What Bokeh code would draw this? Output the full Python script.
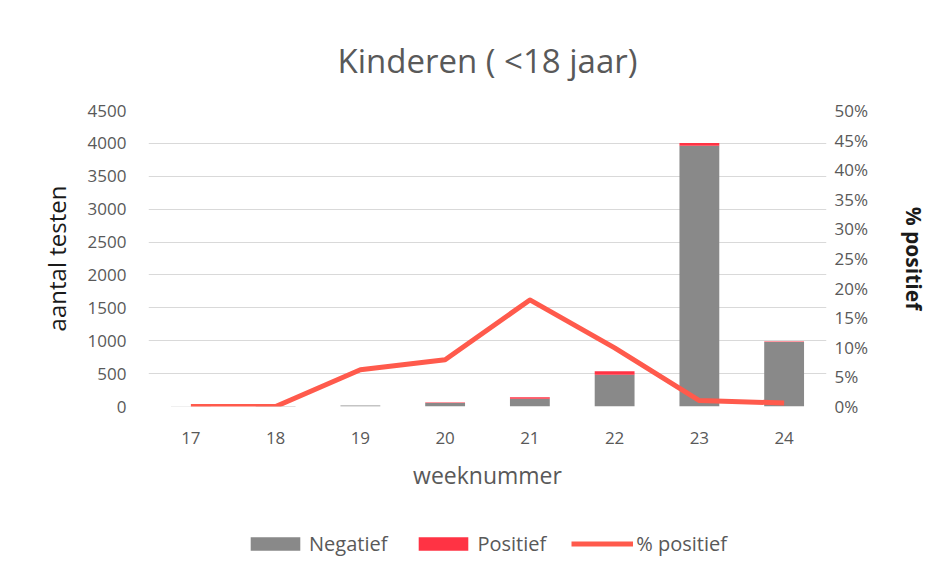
from bokeh.plotting import figure
from bokeh.layouts import column
from bokeh.models import (Range1d, LinearAxis, SingleIntervalTicker, PrintfTickFormatter,
                          Legend, LegendItem, ColumnDataSource, FactorRange)
from bokeh.embed import file_html
from bokeh.resources import INLINE

weeks = ["17", "18", "19", "20", "21", "22", "23", "24"]
negatief = [4, 6, 15, 55, 116, 483, 3965, 982]
positief = [0, 0, 1, 5, 25, 53, 40, 6]
pct_positief = [0.0, 0.0, 6.2, 7.9, 18.0, 9.9, 1.0, 0.6]
series_labels = ["Negatief", "Positief", "% positief"]

FONT = "Open Sans"
TXT = "#595959"
GREY = "#898989"
RED = "#ff3344"
LINE = "#ff5a4c"

src = ColumnDataSource(dict(week=weeks, Negatief=negatief, Positief=positief, pct=pct_positief))

p = figure(x_range=FactorRange(*weeks, range_padding=0), y_range=Range1d(0, 4500),
           width=936, height=500, output_backend="svg", toolbar_location=None,
           min_border_left=148, min_border_right=110, min_border_top=110, min_border_bottom=94)
p.extra_y_ranges = {"pct": Range1d(0, 50)}

p.vbar_stack(["Negatief", "Positief"], x="week", width=0.47, source=src,
             color=[GREY, RED], line_color=None)
p.line(x="week", y="pct", source=src, y_range_name="pct", line_color=LINE,
       line_width=5, line_join="round")

p.title.text = "Kinderen ( <18 jaar)"
p.title.align = "center"
p.title.offset = -5
p.title.text_font = FONT
p.title.text_font_size = "33px"
p.title.text_font_style = "normal"
p.title.text_color = TXT
p.title.standoff = 56

p.outline_line_color = None
p.xgrid.grid_line_color = None
p.ygrid.grid_line_color = "#d9d9d9"
p.ygrid.grid_line_width = 1

ya = p.yaxis[0]
ya.ticker = SingleIntervalTicker(interval=500)
ya.axis_label = "aantal testen"

ra = LinearAxis(y_range_name="pct", ticker=SingleIntervalTicker(interval=5),
                formatter=PrintfTickFormatter(format="%d%%"), axis_label="% positief")
p.add_layout(ra, "right")

xa = p.xaxis[0]
xa.axis_label = "weeknummer"

for ax in [ya, ra, xa]:
    ax.axis_line_color = None
    ax.major_tick_line_color = None
    ax.minor_tick_line_color = None
    ax.major_label_text_font = FONT
    ax.major_label_text_font_size = "17px"
    ax.major_label_text_color = TXT
    ax.axis_label_text_font = FONT
    ax.axis_label_text_font_size = "23px"
    ax.axis_label_text_font_style = "normal"
    ax.axis_label_text_color = "#1a1a1a"

ya.major_label_standoff = 16
ya.axis_label_standoff = 12
ya.axis_label_text_font_size = "24px"
ra.major_label_standoff = 2
ra.axis_label_standoff = 29
ra.axis_label_text_font_style = "bold"
ra.axis_label_text_font_size = "21px"
xa.major_label_standoff = 19
xa.axis_label_standoff = 12
xa.axis_label_text_color = TXT

# legend row below the chart (its own renderers are hidden; only the legend is drawn)
lg = figure(x_range=FactorRange(*weeks, range_padding=0), y_range=Range1d(-2, -1),
            width=936, height=63, output_backend="svg", toolbar_location=None,
            x_axis_location=None, y_axis_location=None, min_border=0)
lg.outline_line_color = None
lg.grid.visible = False
lg_bars = lg.vbar_stack(["Negatief", "Positief"], x="week", width=0.47, source=src,
                        color=[GREY, RED], line_color=None)
lg_line = lg.line(x="week", y="pct", source=src, line_color=LINE, line_width=5)
for rr in list(lg_bars) + [lg_line]:
    rr.visible = False

legend = Legend(items=[LegendItem(label=series_labels[0], renderers=[lg_bars[0]]),
                       LegendItem(label=series_labels[1], renderers=[lg_bars[1]]),
                       LegendItem(label=series_labels[2], renderers=[lg_line])],
                orientation="horizontal", location=(96, 6), click_policy="none",
                glyph_width=62, glyph_height=17, label_standoff=3, spacing=25,
                padding=0, margin=0, border_line_color=None, background_fill_alpha=0,
                inactive_fill_alpha=0,
                label_text_font=FONT, label_text_font_size="20px", label_text_color=TXT)
lg.add_layout(legend, "center")

layout = column(p, lg, spacing=0)
open("out.html", "w").write(file_html(layout, INLINE))
